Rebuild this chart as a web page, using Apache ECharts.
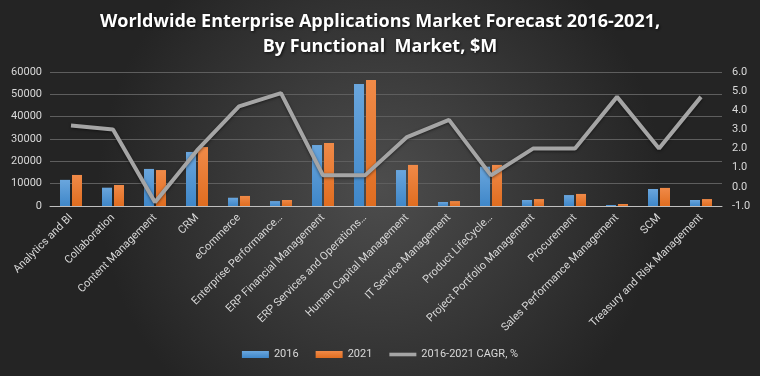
<!DOCTYPE html>
<html>
<head>
<meta charset="utf-8">
<script src="https://cdn.jsdelivr.net/npm/echarts@6/dist/echarts.min.js"></script>
<style>
    html, body {margin: 0; padding: 0; background: #333;}
    #chart {width: 760px; height: 376px;}
</style>
</head>
<body>
<div id="chart"></div>
<script>
// categories, as labelled on the axis (long ones are cut in the original)
var categories = [
    'Analytics and BI', 'Collaboration', 'Content Management', 'CRM', 'eCommerce',
    'Enterprise Performance…', 'ERP Financial Management', 'ERP Services and Operations…',
    'Human Capital Management', 'IT Service Management', 'Product LifeCycle…',
    'Project Portfolio Management', 'Procurement', 'Sales Performance Management',
    'SCM', 'Treasury and Risk Management'
];
var sales2016 = [11700, 8200, 16600, 24200, 3700, 2200, 27300, 54600, 16100, 1800, 17600, 2700, 4900, 450, 7600, 2700];
var sales2021 = [13900, 9400, 16100, 26400, 4500, 2700, 28200, 56400, 18400, 2200, 18400, 3100, 5400, 900, 8100, 3100];
var cagr = [3.2, 3.0, -0.8, 1.9, 4.2, 4.9, 0.6, 0.6, 2.6, 3.5, 0.6, 2.0, 2.0, 4.7, 2.0, 4.7];
var leftTicks = {min: 0, max: 60000, step: 10000};
var rightTicks = {min: -1, max: 6, step: 1};

var labelColor = '#d9d9d9';
var font = 'Roboto';

var chart = echarts.init(document.getElementById('chart'));
chart.setOption({
    animation: false,
    backgroundColor: {
        type: 'radial', x: 0.5, y: 0.5, r: 0.75,
        colorStops: [{offset: 0, color: '#4d4d4d'}, {offset: 1, color: '#242424'}]
    },
    title: {
        text: 'Worldwide Enterprise Applications Market Forecast 2016-2021,\nBy Functional  Market, $M',
        left: 'center',
        top: 4,
        textStyle: {
            color: '#ffffff', fontFamily: 'Open Sans', fontWeight: 'bold', fontSize: 18,
            lineHeight: 25, textShadowColor: 'rgba(0,0,0,0.8)', textShadowBlur: 3,
            textShadowOffsetX: 1, textShadowOffsetY: 1
        }
    },
    legend: {
        bottom: 11,
        left: 'center',
        itemGap: 17,
        itemWidth: 27,
        itemHeight: 7,
        textStyle: {color: labelColor, fontFamily: font, fontSize: 11},
        data: [
            {name: '2016', icon: 'rect'},
            {name: '2021', icon: 'rect'},
            {name: '2016-2021 CAGR, %', icon: 'path://M0,0 L30,0 L30,4 L0,4 Z'}
        ]
    },
    grid: {left: 50, right: 38, top: 72, bottom: 170},
    xAxis: {
        type: 'category',
        data: categories,
        axisTick: {show: false},
        axisLine: {lineStyle: {color: '#bfbfbf', width: 1}},
        axisLabel: {rotate: 45, interval: 0, color: labelColor, fontFamily: font, fontSize: 11, margin: 10}
    },
    yAxis: [{
        type: 'value',
        min: leftTicks.min, max: leftTicks.max, interval: leftTicks.step,
        axisLine: {show: false},
        axisTick: {show: false},
        axisLabel: {
            color: labelColor, fontFamily: font, fontSize: 11, margin: 8,
            formatter: function (v) { return String(v); }
        },
        splitLine: {lineStyle: {color: '#5e5e5e', width: 1}}
    }, {
        type: 'value',
        min: rightTicks.min, max: rightTicks.max, interval: rightTicks.step,
        axisLine: {show: false},
        axisTick: {show: false},
        splitLine: {show: false},
        axisLabel: {
            color: labelColor, fontFamily: font, fontSize: 11, margin: 10,
            formatter: function (v) { return v.toFixed(1); }
        }
    }],
    series: [{
        name: '2016',
        type: 'bar',
        data: sales2016,
        barWidth: 10,
        barGap: '20%',
        itemStyle: {
            color: {type: 'linear', x: 0, y: 0, x2: 0, y2: 1,
                colorStops: [{offset: 0, color: '#6aa6dd'}, {offset: 1, color: '#3f87c9'}]}
        }
    }, {
        name: '2021',
        type: 'bar',
        data: sales2021,
        barWidth: 10,
        itemStyle: {
            color: {type: 'linear', x: 0, y: 0, x2: 0, y2: 1,
                colorStops: [{offset: 0, color: '#f08a48'}, {offset: 1, color: '#e06d20'}]}
        }
    }, {
        name: '2016-2021 CAGR, %',
        type: 'line',
        yAxisIndex: 1,
        data: cagr,
        symbol: 'none',
        itemStyle: {color: '#a5a5a5'},
        lineStyle: {
            color: '#a5a5a5', width: 4,
            shadowColor: 'rgba(0,0,0,0.5)', shadowBlur: 3, shadowOffsetY: 1
        }
    }]
});
</script>
</body>
</html>
